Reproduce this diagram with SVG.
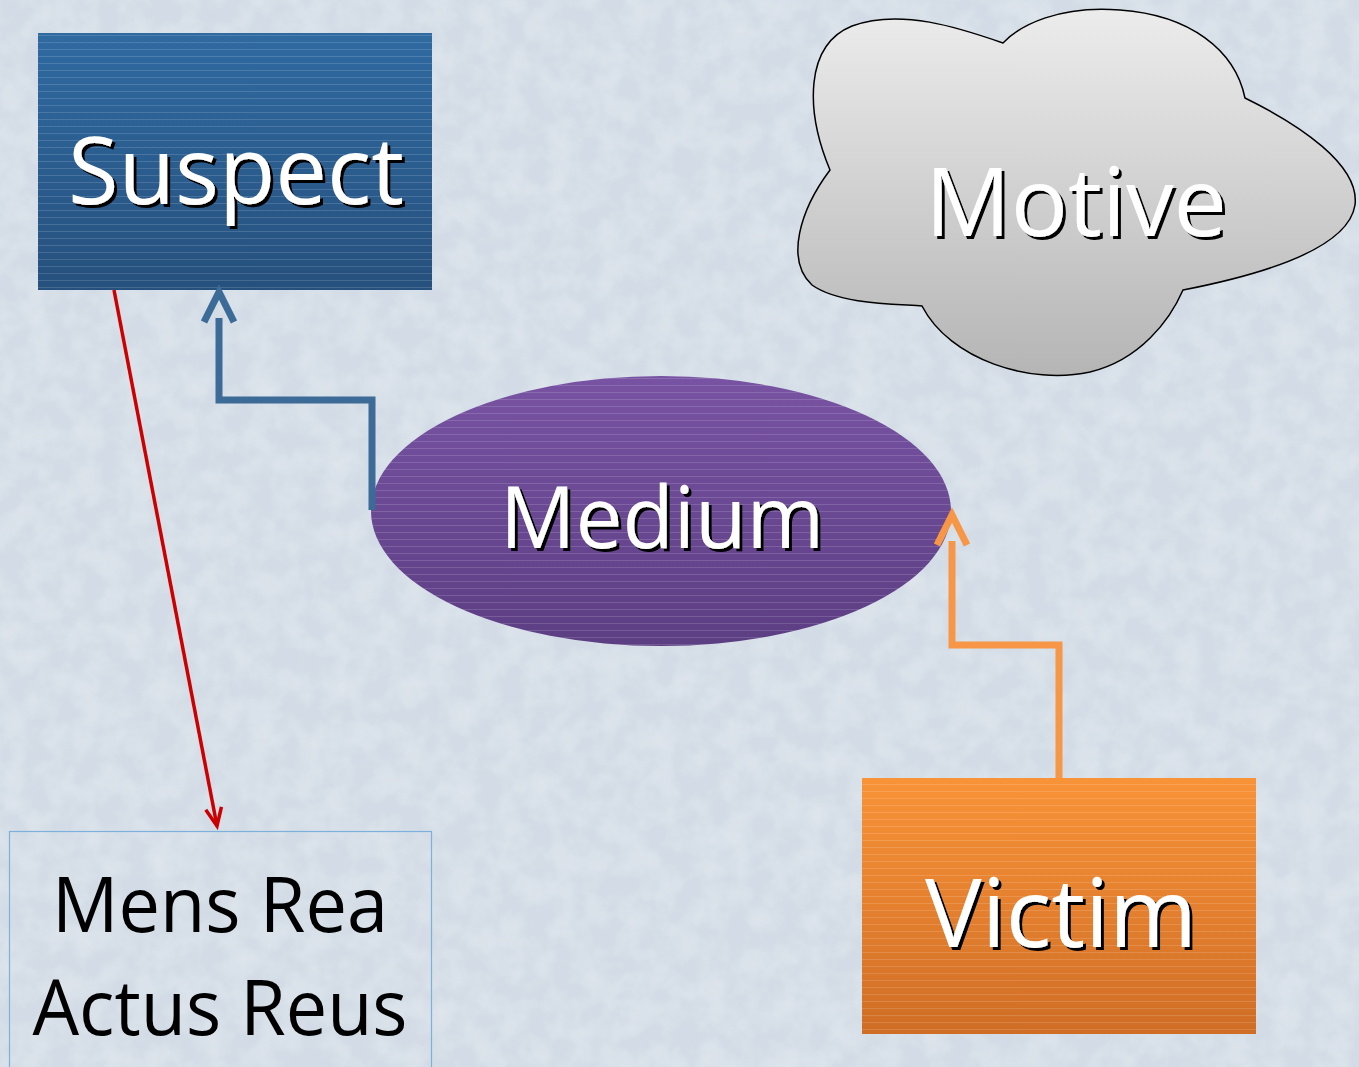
<svg xmlns="http://www.w3.org/2000/svg" width="1359" height="1067" viewBox="0 0 1359 1067">
<style>
.lbl{font-family:"Open Sans","Noto Sans","Liberation Sans",sans-serif;fill:#ffffff;filter:url(#shadow);text-anchor:middle}
.plain{font-family:"Open Sans","Noto Sans","Liberation Sans",sans-serif;fill:#000000;text-anchor:middle}
.stripes{fill:url(#stripes)}
</style>
<defs>
<linearGradient id="gBlue" x1="0" y1="0" x2="0" y2="1"><stop offset="0" stop-color="#2f6aa1"/><stop offset="1" stop-color="#26507d"/></linearGradient>
<linearGradient id="gPurple" x1="0" y1="0" x2="0" y2="1"><stop offset="0" stop-color="#7853a3"/><stop offset="1" stop-color="#5c3e83"/></linearGradient>
<linearGradient id="gOrange" x1="0" y1="0" x2="0" y2="1"><stop offset="0" stop-color="#f99338"/><stop offset="1" stop-color="#cf6d25"/></linearGradient>
<linearGradient id="gGray" x1="0" y1="0" x2="0" y2="1"><stop offset="0" stop-color="#ececec"/><stop offset="1" stop-color="#b5b5b5"/></linearGradient>
<pattern id="stripes" x="0" y="0" width="8" height="7" patternUnits="userSpaceOnUse"><rect x="0" y="0" width="8" height="1" fill="#ffffff" fill-opacity="0.14"/></pattern>
<filter id="shadow" x="-10%" y="-20%" width="130%" height="150%"><feDropShadow dx="3" dy="3" stdDeviation="0.6" flood-color="#000000" flood-opacity="1"/></filter>
<filter id="tex" x="0" y="0" width="100%" height="100%"><feTurbulence type="fractalNoise" baseFrequency="0.04" numOctaves="3" seed="4"/><feColorMatrix type="matrix" values="0 0 0 0 1  0 0 0 0 1  0 0 0 0 1  0 0 0 0.9 -0.3"/></filter>
<marker id="aBlue" markerUnits="userSpaceOnUse" viewBox="-40 -20 60 40" markerWidth="60" markerHeight="40" refX="-26" refY="0" orient="auto"><path d="M-30,-15 L0,0 L-30,15" fill="none" stroke="#3d6b98" stroke-width="7"/></marker>
<marker id="aOrange" markerUnits="userSpaceOnUse" viewBox="-40 -20 60 40" markerWidth="60" markerHeight="40" refX="-26" refY="0" orient="auto"><path d="M-30,-15 L0,0 L-30,15" fill="none" stroke="#f79646" stroke-width="7"/></marker>
<marker id="aRed" markerUnits="userSpaceOnUse" viewBox="-30 -15 40 30" markerWidth="40" markerHeight="30" refX="0" refY="0" orient="auto"><path d="M-18,-8 L0,0 L-18,8" fill="none" stroke="#cc0000" stroke-width="3.5"/></marker>
</defs>
<rect x="0" y="0" width="1359" height="1067" fill="#d3dce6"/>
<rect x="0" y="0" width="1359" height="1067" filter="url(#tex)" opacity="0.5"/>

<g id="suspect">
<rect x="38" y="33" width="394" height="257" fill="url(#gBlue)"/>
<rect x="38" y="33" width="394" height="257" class="stripes"/>
<text class="lbl" x="236" y="204" font-size="94" textLength="336" lengthAdjust="spacingAndGlyphs">Suspect</text>
</g>

<g id="motive">
<path d="M1003,43 C960,28 900,8 852,26 C805,45 805,110 830,170 C800,210 785,260 812,285 C840,305 900,304 922,306 C950,360 1030,385 1090,372 C1140,360 1170,320 1183,290 C1260,275 1348,250 1355,205 C1360,165 1300,125 1245,98 C1235,50 1190,15 1120,10 C1060,5 1020,25 1003,43 Z" fill="url(#gGray)" stroke="#000000" stroke-width="1.5"/>
<text class="lbl" x="1076" y="236" font-size="96" textLength="302" lengthAdjust="spacingAndGlyphs">Motive</text>
</g>

<g id="medium">
<ellipse cx="661" cy="511" rx="290" ry="135" fill="url(#gPurple)"/>
<ellipse cx="661" cy="511" rx="290" ry="135" class="stripes"/>
<text class="lbl" x="662" y="548" font-size="86" textLength="324" lengthAdjust="spacingAndGlyphs">Medium</text>
</g>

<g id="victim">
<rect x="862" y="778" width="394" height="256" fill="url(#gOrange)"/>
<rect x="862" y="778" width="394" height="256" class="stripes"/>
<text class="lbl" x="1061" y="947" font-size="96" textLength="272" lengthAdjust="spacingAndGlyphs">Victim</text>
</g>

<g id="mensrea">
<rect x="9.5" y="831.5" width="422" height="250" fill="none" stroke="#7fb0dc" stroke-width="1.2"/>
<text class="plain" x="220" y="932" font-size="77" textLength="336" lengthAdjust="spacingAndGlyphs">Mens Rea</text>
<text class="plain" x="220" y="1035" font-size="77" textLength="375" lengthAdjust="spacingAndGlyphs">Actus Reus</text>
</g>

<g id="connectors" fill="none">
<path d="M114,290 L217,826" stroke="#cc0000" stroke-width="3.5" marker-end="url(#aRed)"/>
<path d="M372,510 L372,400 L219,400 L219,318" stroke="#3d6b98" stroke-width="7" marker-end="url(#aBlue)"/>
<path d="M1059,778 L1059,645 L952,645 L952,541" stroke="#f79646" stroke-width="7" marker-end="url(#aOrange)"/>
</g>
</svg>
